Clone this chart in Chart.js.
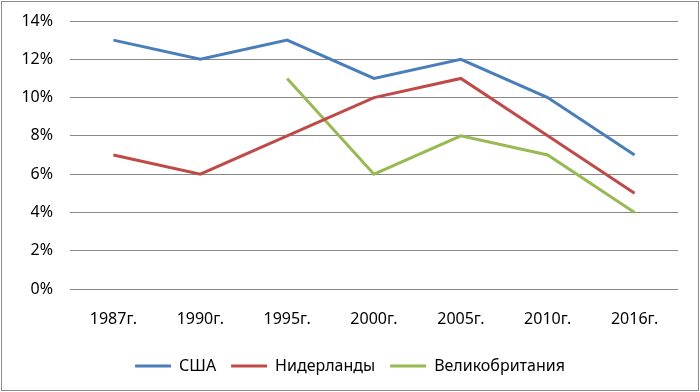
<!DOCTYPE html>
<html>
<head>
<meta charset="utf-8">
<script src="https://cdn.jsdelivr.net/npm/chart.js@4"></script>
<style>
    body { margin: 0; background: #fff; }
    .wrap { position: absolute; left: 0; top: 0; width: 700px; height: 392px; }
</style>
</head>
<body>
<div class="wrap"><canvas id="chart"></canvas></div>
<script>
const years = ['1987г.', '1990г.', '1995г.', '2000г.', '2005г.', '2010г.', '2016г.'];
const usa = [13, 12, 13, 11, 12, 10, 7];
const netherlands = [7, 6, 8, 10, 11, 8, 5];
const britain = [null, null, 11, 6, 8, 7, 4];

const FONT = "'Noto Sans', sans-serif";

// gray frame round the whole picture
const framePlugin = {
    id: 'frame',
    beforeDraw(chart) {
        const { ctx } = chart;
        ctx.save();
        ctx.fillStyle = '#fff';
        ctx.fillRect(0, 0, chart.width, chart.height);
        ctx.strokeStyle = '#8c8c8c';
        ctx.lineWidth = 1;
        ctx.strokeRect(1.5, 1.5, chart.width - 3, chart.height - 3);
        ctx.restore();
    }
};

const line = (label, data, color) => ({
    label, data,
    borderColor: color, backgroundColor: color,
    borderWidth: 3, pointRadius: 0, tension: 0, fill: false
});

new Chart(document.getElementById('chart'), {
    type: 'line',
    data: {
        labels: years,
        datasets: [
            line('США', usa, '#4a7ebb'),
            line('Нидерланды', netherlands, '#be4b48'),
            line('Великобритания', britain, '#98b954')
        ]
    },
    options: {
        responsive: true,
        maintainAspectRatio: false,
        animation: false,
        layout: { padding: { left: 0, right: 0, top: 9, bottom: 8 } },
        scales: {
            x: {
                offset: true,
                grid: { display: false, drawTicks: false, offset: true },
                border: { display: false },
                ticks: { color: '#000', font: { family: FONT, size: 16 }, padding: 21, maxRotation: 0 },
                afterFit: s => { s.height = 54; }
            },
            y: {
                min: 0, max: 14,
                grid: { color: '#888', drawTicks: false },
                border: { display: false },
                ticks: {
                    stepSize: 2, padding: 17, color: '#000',
                    font: { family: FONT, size: 16 },
                    callback: v => v + '%'
                },
                afterFit: s => { s.width = 70; s.paddingTop = 21; s.paddingBottom = 10; }
            },
            // empty right-hand strip so the legend stays centred on the whole picture
            yRight: {
                position: 'right',
                grid: { display: false, drawTicks: false },
                border: { display: false },
                ticks: { display: false },
                afterFit: s => { s.width = 22; }
            }
        },
        plugins: {
            legend: {
                position: 'bottom',
                labels: {
                    usePointStyle: true, pointStyle: 'line', pointStyleWidth: 36,
                    boxHeight: 16, padding: 15, color: '#000',
                    font: { family: FONT, size: 16 }
                }
            },
            tooltip: { enabled: false }
        }
    },
    plugins: [framePlugin]
});
</script>
</body>
</html>
